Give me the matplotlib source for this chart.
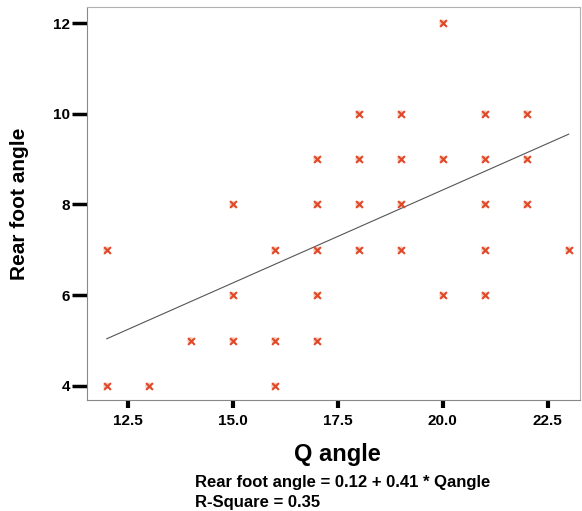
import matplotlib
matplotlib.use("Agg")
import matplotlib.pyplot as plt
import numpy as np

plt.rcParams['font.family'] = ['Liberation Sans', 'DejaVu Sans']

# Data
q_angle = [20,
           18, 19, 21, 22,
           17, 18, 19, 20, 21, 22,
           15, 17, 18, 19, 21, 22,
           12, 16, 17, 18, 19, 21, 23,
           15, 17, 20, 21,
           14, 15, 16, 17,
           12, 13, 16]
rear_foot = [12,
             10, 10, 10, 10,
             9, 9, 9, 9, 9, 9,
             8, 8, 8, 8, 8, 8,
             7, 7, 7, 7, 7, 7, 7,
             6, 6, 6, 6,
             5, 5, 5, 5,
             4, 4, 4]
intercept = 0.12
slope = 0.41
fit_x = [12, 23]
x_ticks = [12.5, 15.0, 17.5, 20.0, 22.5]
y_ticks = [4, 6, 8, 10, 12]

fig = plt.figure(figsize=(5.82, 5.11), dpi=100)
ax = fig.add_axes([0.1495, 0.2172, 0.8471, 0.7688])

xs = np.array(q_angle, dtype=float)
ys = np.array(rear_foot, dtype=float)
ax.scatter(xs, ys, s=24, marker='o', facecolor='#f4a582', edgecolor='none', alpha=0.6, zorder=3)
ax.scatter(xs, ys, s=24, marker='x', color='#e0482a', linewidths=1.5, zorder=4)

fx = np.array(fit_x, dtype=float)
ax.plot(fx, intercept + slope * fx, color='#555555', linewidth=0.8, zorder=2)

ax.set_xlim(11.53, 23.27)
ax.set_ylim(3.69, 12.35)
ax.set_xticks(x_ticks)
ax.set_xticklabels([f"{v:.1f}" for v in x_ticks])
ax.set_yticks(y_ticks)
ax.set_yticklabels([str(v) for v in y_ticks])

for s in ax.spines.values():
    s.set_color('#b0b0b0')
    s.set_linewidth(0.8)
ax.spines['left'].set_color('#888888')
ax.spines['bottom'].set_color('#888888')

ax.tick_params(axis='x', direction='out', length=6, width=3, pad=4, labelsize=11, colors='black')
ax.tick_params(axis='y', direction='out', length=11, width=2.5, pad=1, labelsize=11, colors='black')
for lab in ax.get_xticklabels() + ax.get_yticklabels():
    lab.set_fontweight('bold')

ax.set_ylabel('Rear foot angle', fontsize=15, fontweight='bold')
ax.yaxis.set_label_coords(-0.118, 0.5)
fig.text(337 / 582, 1 - 454 / 511, 'Q angle', fontsize=17, fontweight='bold', ha='center', va='center')
fig.text(195 / 582, 1 - 482 / 511, 'Rear foot angle = 0.12 + 0.41 * Qangle', fontsize=12,
         fontweight='bold', ha='left', va='center')
fig.text(195 / 582, 1 - 502 / 511, 'R-Square = 0.35', fontsize=12,
         fontweight='bold', ha='left', va='center')

fig.savefig('out.png', dpi=100)
